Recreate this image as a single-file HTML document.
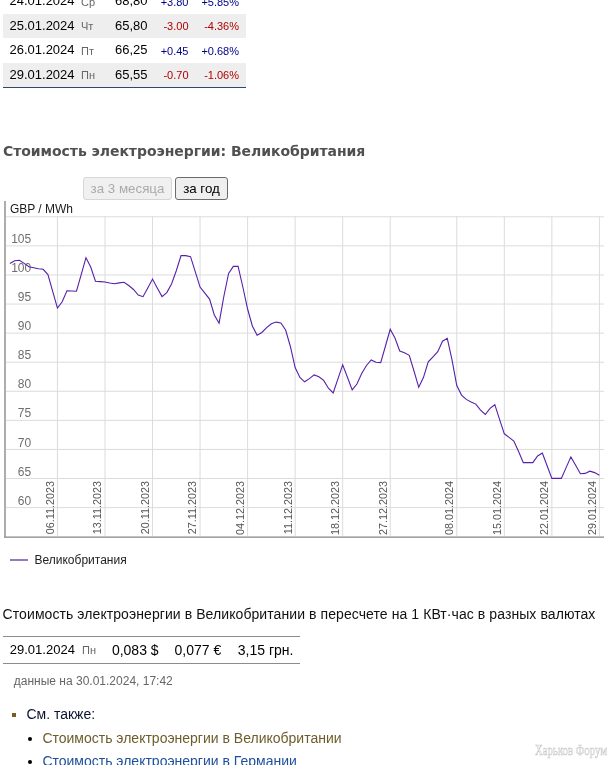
<!DOCTYPE html>
<html lang="ru">
<head>
<meta charset="utf-8">
<title>Стоимость электроэнергии: Великобритания</title>
<style>
html,body{margin:0;padding:0;background:#fff;}
body{width:614px;height:765px;overflow:hidden;position:relative;font-family:"Liberation Sans",Arial,sans-serif;color:#000;}
.a{position:absolute;white-space:nowrap;}
.row{position:absolute;left:3px;width:243px;}
.g{background:#eeeeee;}
.t{position:absolute;white-space:nowrap;line-height:1;}
.d{font-size:13px;color:#000;}
.w{font-size:11px;color:#666;}
.v{font-size:13px;color:#000;}
.c{font-size:11px;text-align:right;}
.up{color:#00008b;}
.dn{color:#b00000;}
h2{position:absolute;margin:0;left:3px;top:143px;font:bold 14px/17px "DejaVu Sans",Verdana,sans-serif;color:#505050;letter-spacing:-0.05px;white-space:nowrap;}
.btn{position:absolute;top:177px;height:23px;box-sizing:border-box;border-radius:3px;font:13.33px "Liberation Sans",Arial,sans-serif;text-align:center;line-height:22px;}
.b1{left:83px;width:89px;border:1px solid #d6d6d6;background:#f0f0f0;color:#aaa;}
.b2{left:175px;width:53px;border:1px solid #6c6c6c;background:#efefef;color:#000;}
</style>
</head>
<body>
<!-- top table -->
<div class="row" style="top:-10.5px;height:24.5px;"></div>
<div class="row g" style="top:14px;height:24px;"></div>
<div class="row" style="top:38px;height:24.5px;"></div>
<div class="row g" style="top:62.5px;height:24px;"></div>
<div class="a" style="left:3px;top:86.6px;width:243px;height:1.4px;background:#2c4a6b;"></div>

<div class="t d" style="left:9.5px;top:-5.8px;">24.01.2024</div>
<div class="t w" style="left:81px;top:-3.5px;">Ср</div>
<div class="t v" style="left:115px;top:-5.8px;">68,80</div>
<div class="t c up" style="right:425.5px;top:-3.5px;">+3.80</div>
<div class="t c up" style="right:375px;top:-3.5px;">+5.85%</div>

<div class="t d" style="left:9.5px;top:18.7px;">25.01.2024</div>
<div class="t w" style="left:81px;top:21px;">Чт</div>
<div class="t v" style="left:115px;top:18.7px;">65,80</div>
<div class="t c dn" style="right:425.5px;top:21px;">-3.00</div>
<div class="t c dn" style="right:375px;top:21px;">-4.36%</div>

<div class="t d" style="left:9.5px;top:43.2px;">26.01.2024</div>
<div class="t w" style="left:81px;top:45.5px;">Пт</div>
<div class="t v" style="left:115px;top:43.2px;">66,25</div>
<div class="t c up" style="right:425.5px;top:45.5px;">+0.45</div>
<div class="t c up" style="right:375px;top:45.5px;">+0.68%</div>

<div class="t d" style="left:9.5px;top:67.7px;">29.01.2024</div>
<div class="t w" style="left:81px;top:70px;">Пн</div>
<div class="t v" style="left:115px;top:67.7px;">65,55</div>
<div class="t c dn" style="right:425.5px;top:70px;">-0.70</div>
<div class="t c dn" style="right:375px;top:70px;">-1.06%</div>

<h2>Стоимость электроэнергии: Великобритания</h2>

<div class="btn b1">за 3 месяца</div>
<div class="btn b2">за год</div>

<!-- CHART -->
<svg class="a" style="left:0;top:0" width="614" height="600" viewBox="0 0 614 600">
<g fill="#dcdcdc">
<rect x="6" y="216.30" width="598.0" height="1"/>
<rect x="6" y="245.38" width="598.0" height="1"/>
<rect x="6" y="274.46" width="598.0" height="1"/>
<rect x="6" y="303.54" width="598.0" height="1"/>
<rect x="6" y="332.62" width="598.0" height="1"/>
<rect x="6" y="361.70" width="598.0" height="1"/>
<rect x="6" y="390.78" width="598.0" height="1"/>
<rect x="6" y="419.86" width="598.0" height="1"/>
<rect x="6" y="448.94" width="598.0" height="1"/>
<rect x="6" y="478.02" width="598.0" height="1"/>
<rect x="6" y="507.10" width="598.0" height="1"/>
</g>
<g fill="#dcdcdc">
<rect x="56.94" y="216.3" width="1" height="319.8"/>
<rect x="104.48" y="216.3" width="1" height="319.8"/>
<rect x="152.02" y="216.3" width="1" height="319.8"/>
<rect x="199.56" y="216.3" width="1" height="319.8"/>
<rect x="247.10" y="216.3" width="1" height="319.8"/>
<rect x="294.64" y="216.3" width="1" height="319.8"/>
<rect x="342.18" y="216.3" width="1" height="319.8"/>
<rect x="389.72" y="216.3" width="1" height="319.8"/>
<rect x="456.28" y="216.3" width="1" height="319.8"/>
<rect x="503.82" y="216.3" width="1" height="319.8"/>
<rect x="551.36" y="216.3" width="1" height="319.8"/>
<rect x="598.90" y="216.3" width="1" height="319.8"/>
</g>
<rect x="4.2" y="201" width="1.6" height="336.6" fill="#9a9a9a"/>
<rect x="4.2" y="536.4" width="599.8" height="1.5" fill="#9a9a9a"/>
<g font-family="Liberation Sans, Arial, sans-serif" font-size="12" fill="#6e6e6e" text-anchor="end">
<text x="31.2" y="242.98">105</text>
<text x="31.2" y="272.06">100</text>
<text x="31.2" y="301.14">95</text>
<text x="31.2" y="330.22">90</text>
<text x="31.2" y="359.30">85</text>
<text x="31.2" y="388.38">80</text>
<text x="31.2" y="417.46">75</text>
<text x="31.2" y="446.54">70</text>
<text x="31.2" y="475.62">65</text>
<text x="31.2" y="504.70">60</text>
</g>
<text x="9.9" y="212.8" font-family="Liberation Sans, Arial, sans-serif" font-size="12" fill="#1a1a1a">GBP / MWh</text>
<g font-family="Liberation Sans, Arial, sans-serif" font-size="10.8" fill="#555" text-anchor="end">
<text transform="translate(53.84,481) rotate(-90)">06.11.2023</text>
<text transform="translate(101.38,481) rotate(-90)">13.11.2023</text>
<text transform="translate(148.92,481) rotate(-90)">20.11.2023</text>
<text transform="translate(196.46,481) rotate(-90)">27.11.2023</text>
<text transform="translate(244.00,481) rotate(-90)">04.12.2023</text>
<text transform="translate(291.54,481) rotate(-90)">11.12.2023</text>
<text transform="translate(339.08,481) rotate(-90)">18.12.2023</text>
<text transform="translate(386.62,481) rotate(-90)">27.12.2023</text>
<text transform="translate(453.18,481) rotate(-90)">08.01.2024</text>
<text transform="translate(500.72,481) rotate(-90)">15.01.2024</text>
<text transform="translate(548.26,481) rotate(-90)">22.01.2024</text>
<text transform="translate(595.80,481) rotate(-90)">29.01.2024</text>
</g>
<path d="M9.90,263.40 L14.65,260.80 L19.41,260.30 L24.16,263.40 L28.92,266.70 L33.67,267.70 L38.42,268.70 L43.18,269.30 L47.93,274.60 L52.69,291.30 L57.44,308.10 L62.19,301.80 L66.95,290.80 L71.70,291.00 L76.46,291.20 L81.21,274.60 L85.96,257.70 L90.72,267.00 L95.47,281.20 L100.23,281.60 L104.98,282.00 L109.73,283.00 L114.49,283.80 L119.24,282.90 L124.00,282.30 L128.75,285.50 L133.50,289.50 L138.26,295.10 L143.01,296.70 L147.77,287.90 L152.52,279.10 L157.27,287.90 L162.03,296.60 L166.78,292.60 L171.54,284.00 L176.29,270.70 L181.04,255.60 L185.80,255.60 L190.55,256.70 L195.31,271.80 L200.06,287.10 L204.81,293.10 L209.57,299.10 L214.32,315.00 L219.08,323.20 L223.83,296.50 L228.58,273.40 L233.34,266.40 L238.09,266.40 L242.85,287.00 L247.60,309.00 L252.35,326.00 L257.11,335.20 L261.86,332.50 L266.62,327.60 L271.37,323.80 L276.12,322.10 L280.88,323.00 L285.63,330.00 L290.39,346.50 L295.14,367.50 L299.89,377.50 L304.65,381.80 L309.40,378.60 L314.16,374.90 L318.91,376.70 L323.66,380.40 L328.42,388.20 L333.17,392.90 L337.93,378.90 L342.68,364.80 L347.43,377.30 L352.19,389.90 L356.94,384.00 L361.70,373.40 L366.45,365.50 L371.20,359.90 L375.96,362.30 L380.71,362.60 L385.47,346.00 L390.22,329.30 L394.97,338.00 L399.73,351.00 L404.48,352.80 L409.24,355.30 L413.99,371.00 L418.74,387.30 L423.50,377.30 L428.25,361.80 L433.01,356.80 L437.76,351.70 L442.51,341.20 L447.27,338.30 L452.02,359.80 L456.78,385.50 L461.53,395.10 L466.28,399.40 L471.04,401.90 L475.79,404.10 L480.55,410.10 L485.30,414.50 L490.05,408.40 L494.81,404.70 L499.56,419.30 L504.32,433.80 L509.07,437.40 L513.82,441.10 L518.58,451.60 L523.33,462.60 L528.09,462.60 L532.84,462.60 L537.59,456.00 L542.35,453.00 L547.10,465.70 L551.86,478.40 L556.61,478.40 L561.36,478.40 L566.12,467.60 L570.87,456.90 L575.63,465.30 L580.38,473.70 L585.13,473.40 L589.89,471.20 L594.64,472.60 L599.40,475.20" fill="none" stroke="#5520aa" stroke-width="1.1"/>
<rect x="10" y="559" width="18" height="2" fill="#9679c6"/>
<text x="34.5" y="563.8" font-family="Liberation Sans, Arial, sans-serif" font-size="12" fill="#222">Великобритания</text>
</svg>
<!-- /CHART -->

<!-- LOWER -->
<div class="t" style="left:2.6px;top:607px;font-size:14px;color:#111;letter-spacing:0.08px;">Стоимость электроэнергии в Великобритании в пересчете на 1 КВт·час в разных валютах</div>
<div class="a" style="left:3px;top:635.7px;width:296.5px;height:1px;background:#8c8c8c;"></div>
<div class="a" style="left:3px;top:662.7px;width:296.5px;height:1px;background:#8c8c8c;"></div>
<div class="t" style="left:9.8px;top:643.3px;font-size:13px;color:#000;">29.01.2024</div>
<div class="t w" style="left:82px;top:644.6px;">Пн</div>
<div class="t" style="left:111.9px;top:643px;font-size:14px;color:#000;">0,083 $</div>
<div class="t" style="left:174.5px;top:643px;font-size:14px;color:#000;">0,077 €</div>
<div class="t" style="left:237.8px;top:643px;font-size:14px;color:#000;">3,15 грн.</div>
<div class="t" style="left:13.8px;top:675px;font-size:12px;color:#666;">данные на 30.01.2024, 17:42</div>

<div class="a" style="left:12px;top:713px;width:4px;height:4px;background:#7a5e1c;"></div>
<div class="t" style="left:26.4px;top:707px;font-size:14px;color:#0a1230;">См. также:</div>
<div class="a" style="left:28px;top:737px;width:4px;height:4px;border-radius:50%;background:#000;"></div>
<div class="t" style="left:42.4px;top:730.6px;font-size:14px;color:#6e5c2a;">Стоимость электроэнергии в Великобритании</div>
<div class="a" style="left:28px;top:760px;width:4px;height:4px;border-radius:50%;background:#000;"></div>
<div class="t" style="left:42.4px;top:754px;font-size:14px;color:#1d4f9c;">Стоимость электроэнергии в Германии</div>
<div class="t" style="left:535px;top:742px;font:15px 'Liberation Serif',serif;color:#fff;-webkit-text-stroke:0.6px #c8c8c8;transform:scaleX(0.72);transform-origin:0 0;">Харьков Форум</div>
</body>
</html>
